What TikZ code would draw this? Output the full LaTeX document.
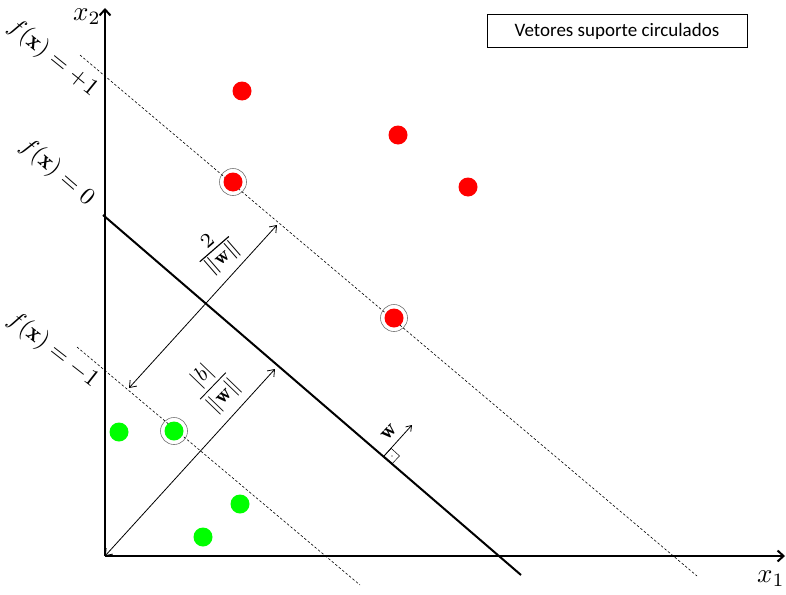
\documentclass[tikz,border=0pt]{standalone}
\usepackage{fontspec}
\usepackage{amsmath}
\newfontfamily\boxfont{Carlito}
\usetikzlibrary{arrows.meta,calc}
\begin{document}
\begin{tikzpicture}[x=1pt,y=-1pt,
  axisline/.style={line width=2.2pt,-{Straight Barb[length=6pt,width=11pt,line width=2pt]}},
  hyper/.style={line width=2pt},
  margin/.style={line width=0.6pt,dash pattern=on 2.5pt off 2pt},
  dimarrow/.style={line width=0.8pt,{Straight Barb[length=6pt,width=9pt]}-{Straight Barb[length=6pt,width=9pt]}},
  warrow/.style={line width=0.8pt,-{Straight Barb[length=5pt,width=7pt]}},
  redpt/.style={circle,fill=red,inner sep=0pt,minimum size=19pt},
  greenpt/.style={circle,fill=green,inner sep=0pt,minimum size=19pt},
  ring/.style={circle,draw=black!55,line width=0.6pt,inner sep=0pt,minimum size=27pt},
  mathlabel/.style={inner sep=0pt,font=\fontsize{10}{12}\selectfont,transform shape},
  flabel/.style={mathlabel,scale=2.4},
  axlabel/.style={mathlabel,scale=2.7}
]
\useasboundingbox (0,0) rectangle (786,594);
% axes
\coordinate (O) at (105,556);
\coordinate (ytop) at (105,8);
\coordinate (xend) at (785,556);
\draw[axisline] (O) -- (ytop);
\draw[axisline] (O) -- (xend);
\node[axlabel] (x2) at (87,17) {$x_2$};
\node[axlabel] (x1) at (771,579) {$x_1$};
% hyperplanes
\coordinate (h0a) at (103,215);
\coordinate (h0b) at (521,575);
\coordinate (hpa) at (80,55);
\coordinate (hpb) at (697,576);
\coordinate (hma) at (77,347);
\coordinate (hmb) at (360,585);
\draw[hyper] (h0a) -- (h0b);
\draw[margin] (hpa) -- (hpb);
\draw[margin] (hma) -- (hmb);
% labels of hyperplanes
\node[flabel,rotate=-39] (lp) at (53,58) {$f(\mathbf{x}) = +1$};
\node[flabel,rotate=-41] (l0) at (57,172) {$f(\mathbf{x}) = 0$};
\node[flabel,rotate=-38] (lm) at (53,350) {$f(\mathbf{x}) = -1$};
% margin arrow
\coordinate (ma) at (129,388);
\coordinate (mb) at (277,225);
\draw[dimarrow] (ma) -- (mb);
\node[mathlabel,scale=2.9,rotate=41] (mlab) at (216,251) {$\frac{2}{\|\mathbf{w}\|}$};
% bias arrow
\coordinate (ba) at (275,369);
\draw[dimarrow] (O) -- (ba);
\node[mathlabel,scale=2.15,rotate=46] (blab) at (213,386) {$\dfrac{|b|}{\|\mathbf{w}\|}$};
% normal vector w
\coordinate (F) at (384,456);
\coordinate (wt) at (412,425);
\draw[line width=0.5pt] (F) -- ++(7.2,-7.6) -- ++(8.3,7.5) -- ++(-7.2,7.6) -- cycle;
\fill (392,456) circle[radius=0.7pt];
\draw[warrow] (F) -- (wt);
\node[mathlabel,scale=2.2,rotate=47] (wl) at (389,432) {$\mathbf{w}$};
% points
\node[redpt] (r1) at (242,91) {};
\node[redpt] (r2) at (398,135) {};
\node[redpt] (r3) at (468,187) {};
\node[redpt] (r4) at (233,182) {};
\node[redpt] (r5) at (394,318) {};
\node[ring] (c4) at (233,182) {};
\node[ring] (c5) at (394,318) {};
\node[greenpt] (g1) at (119,432) {};
\node[greenpt] (g2) at (174,431) {};
\node[greenpt] (g3) at (240,504) {};
\node[greenpt] (g4) at (203,537) {};
\node[ring] (c2) at (174,431) {};
% legend box
\node[draw,line width=0.8pt,minimum width=260pt,minimum height=33pt,inner sep=0pt,font=\boxfont\fontsize{19}{22}\selectfont] (box) at (617,31) {Vetores suporte circulados};
\end{tikzpicture}
\end{document}
